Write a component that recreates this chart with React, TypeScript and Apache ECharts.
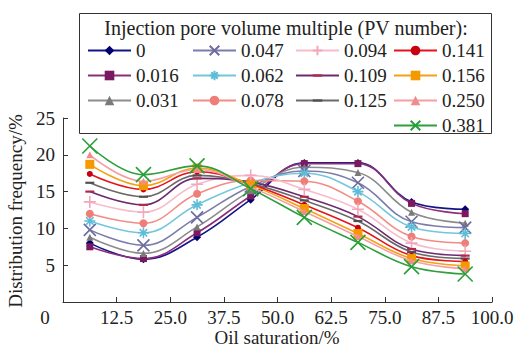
import React, { useEffect, useRef } from "react";
import * as echarts from "echarts";

const xValues = [6.25, 18.75, 31.25, 43.75, 56.25, 68.75, 81.25, 93.75];
const xTickLabels = ["0", "12.5", "25.0", "37.5", "50.0", "62.5", "75.0", "87.5", "100.0"];
const yTickLabels = ["0", "5", "10", "15", "20", "25"];

const pvNames = ["0", "0.016", "0.031", "0.047", "0.062", "0.078", "0.094", "0.109", "0.125", "0.141", "0.156", "0.250", "0.381"];

const pv0 = [8.0, 5.8, 8.8, 13.9, 18.9, 18.9, 13.6, 12.6];
const pv016 = [7.5, 5.9, 9.4, 14.4, 18.8, 18.8, 13.4, 12.0];
const pv031 = [8.8, 6.6, 10.2, 15.1, 18.3, 17.6, 12.2, 10.7];
const pv047 = [9.8, 7.7, 11.5, 15.7, 17.8, 16.2, 10.9, 10.1];
const pv062 = [11.0, 9.4, 13.2, 16.2, 17.5, 15.0, 10.2, 9.3];
const pv078 = [12.0, 10.7, 14.7, 16.5, 16.4, 13.7, 8.9, 8.0];
const pv094 = [13.6, 12.2, 16.0, 17.2, 15.3, 12.6, 8.0, 6.9];
const pv109 = [15.0, 13.2, 16.8, 16.3, 14.3, 11.6, 7.2, 6.3];
const pv125 = [16.2, 14.3, 17.2, 16.1, 13.8, 11.0, 6.8, 5.9];
const pv141 = [17.4, 15.3, 17.7, 16.0, 13.2, 10.1, 6.3, 5.5];
const pv156 = [18.7, 15.8, 18.2, 15.9, 12.7, 9.3, 5.9, 4.9];
const pv250 = [20.0, 16.4, 18.0, 15.6, 12.3, 8.9, 5.6, 4.5];
const pv381 = [21.2, 17.3, 18.5, 15.4, 11.5, 8.1, 4.8, 3.8];

const seriesValues = [pv0, pv016, pv031, pv047, pv062, pv078, pv094, pv109, pv125, pv141, pv156, pv250, pv381];

const X_PATH = "path://M0,0L10,10M10,0L0,10";
const AST_PATH = "path://M5,0L5,10M0,5L10,5M1.6,1.6L8.4,8.4M8.4,1.6L1.6,8.4";
const PLUS_PATH = "path://M5,0L5,10M0,5L10,5";
const DASH_PATH = "path://M0,0M10,10M0,3.8L10,3.8L10,6.2L0,6.2Z";

type Style = { line: string; mark: string; symbol: string; size: number; stroke?: boolean };
const styles: Style[] = [
  { line: "#14148a", mark: "#000070", symbol: "diamond", size: 8 },
  { line: "#8a2f78", mark: "#7a1860", symbol: "rect", size: 7 },
  { line: "#8c8c8c", mark: "#7a7a7a", symbol: "triangle", size: 7 },
  { line: "#7c7cab", mark: "#6c6ca0", symbol: X_PATH, size: 12, stroke: true },
  { line: "#74c6dc", mark: "#5ebcd6", symbol: AST_PATH, size: 11, stroke: true },
  { line: "#f28c84", mark: "#f07e78", symbol: "circle", size: 8 },
  { line: "#f6bccb", mark: "#f2a8bc", symbol: PLUS_PATH, size: 12, stroke: true },
  { line: "#6e2a6e", mark: "#b0284a", symbol: DASH_PATH, size: 9 },
  { line: "#6a6a6a", mark: "#505050", symbol: DASH_PATH, size: 9 },
  { line: "#e4141c", mark: "#c80010", symbol: "circle", size: 6 },
  { line: "#f4a214", mark: "#f49a00", symbol: "rect", size: 9 },
  { line: "#f4a0a0", mark: "#f28c8c", symbol: "triangle", size: 7 },
  { line: "#2f9e3c", mark: "#28a038", symbol: X_PATH, size: 15, stroke: true },
];

const legendCols = [
  ["0", "0.016", "0.031"],
  ["0.047", "0.062", "0.078"],
  ["0.094", "0.109", "0.125"],
  ["0.141", "0.156", "0.250", "0.381"],
];
const legendLefts = [87, 192, 295, 393];

const FONT = "Liberation Serif";

export default function App() {
  const ref = useRef<HTMLDivElement>(null);
  useEffect(() => {
    if (!ref.current) return;
    const chart = echarts.init(ref.current, undefined, { renderer: "svg" });
    const series = pvNames.map((name, i) => {
      const s = styles[i];
      return {
        name,
        type: "line",
        smooth: 0.4,
        data: xValues.map((x, j) => [x, seriesValues[i][j]]),
        symbol: s.symbol,
        symbolSize: s.size,
        symbolKeepAspect: true,
        showSymbol: true,
        lineStyle: { color: s.line, width: 1.6 },
        itemStyle: s.stroke
          ? { color: "rgba(0,0,0,0)", borderColor: s.mark, borderWidth: 1.6 }
          : { color: s.mark, borderWidth: 0 },
        emphasis: { disabled: true },
        z: 2 + i * 0.01,
      };
    });
    const legends = legendCols.map((cols, k) => ({
      data: cols,
      orient: "vertical",
      left: legendLefts[k],
      top: 41,
      padding: 0,
      itemWidth: 43,
      itemHeight: 12,
      itemGap: 6,
      selectedMode: false,
      textStyle: { fontFamily: FONT, fontSize: 19, color: "#222" },
      z: 10,
    }));
    chart.setOption({
      animation: false,
      backgroundColor: "#fff",
      textStyle: { fontFamily: FONT },
      grid: { left: 63, right: 30, top: 118, bottom: 49, containLabel: false },
      legend: legends,
      xAxis: {
        type: "value",
        min: 0,
        max: 100,
        interval: 12.5,
        axisLine: { lineStyle: { color: "#333", width: 1 } },
        axisTick: { inside: true, length: 5, lineStyle: { color: "#333" } },
        axisLabel: {
          fontFamily: FONT,
          fontSize: 19,
          lineHeight: 18,
          color: "#222",
          margin: 6,
          showMinLabel: false,
          formatter: (v: number) => xTickLabels[Math.round(v / 12.5)] ?? "",
        },
        splitLine: { show: false },
      },
      yAxis: {
        type: "value",
        min: 0,
        max: 25,
        interval: 5,
        axisLine: { show: true, lineStyle: { color: "#333", width: 1 } },
        axisTick: { show: true, inside: true, length: 5, lineStyle: { color: "#333" } },
        axisLabel: {
          fontFamily: FONT,
          fontSize: 19,
          color: "#222",
          margin: 8,
          showMinLabel: false,
          padding: [8, 0, 0, 0],
          formatter: (v: number) => yTickLabels[Math.round(v / 5)] ?? "",
        },
        splitLine: { show: false },
      },
      graphic: [
        {
          type: "rect",
          shape: { x: 79.5, y: 13.5, width: 412, height: 120 },
          style: { fill: "#fff", stroke: "#333", lineWidth: 1 },
          z: 5,
        },
        {
          type: "text",
          x: 286,
          y: 28,
          style: {
            text: "Injection pore volume multiple (PV number):",
            fontFamily: FONT,
            fontSize: 20,
            fill: "#222",
            align: "center",
            verticalAlign: "middle",
          },
          z: 6,
        },
        {
          type: "text",
          x: 277,
          y: 337,
          style: {
            text: "Oil saturation/%",
            fontFamily: FONT,
            fontSize: 19,
            lineHeight: 18,
            fill: "#222",
            align: "center",
            verticalAlign: "middle",
          },
          z: 6,
        },
        {
          type: "text",
          x: 15,
          y: 211,
          rotation: Math.PI / 2,
          style: {
            text: "Distribution frequency/%",
            fontFamily: FONT,
            fontSize: 19,
            fill: "#222",
            align: "center",
            verticalAlign: "middle",
          },
          z: 6,
        },
        {
          type: "text",
          x: 45,
          y: 317,
          style: {
            text: yTickLabels[0],
            fontFamily: FONT,
            fontSize: 19,
            fill: "#222",
            align: "center",
            verticalAlign: "middle",
          },
          z: 6,
        },
      ],
      series,
    });
    return () => chart.dispose();
  }, []);
  return <div ref={ref} style={{ position: "absolute", left: 0, top: 0, width: 522, height: 351 }} />;
}
